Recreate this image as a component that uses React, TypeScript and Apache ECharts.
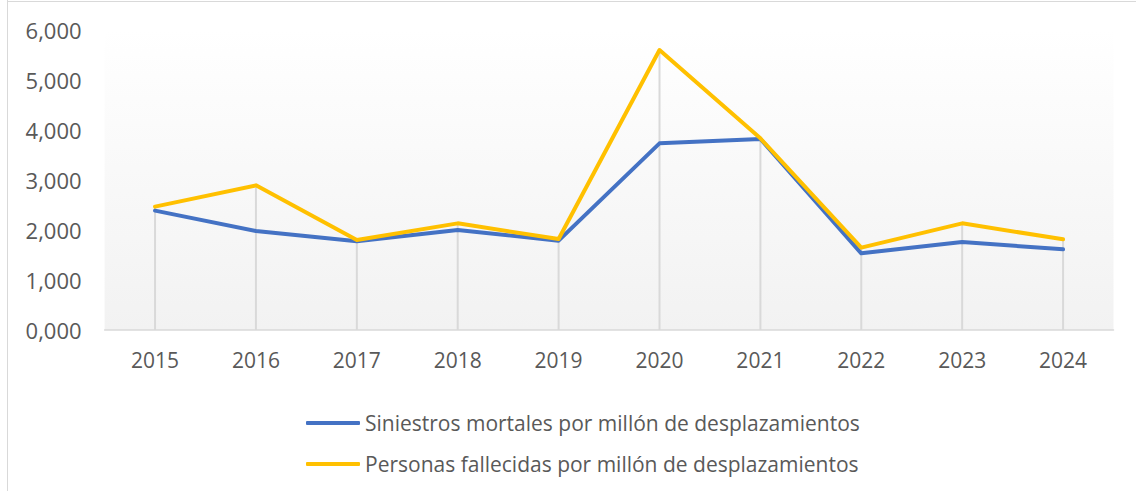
import React, { useEffect, useRef } from "react";
import * as echarts from "echarts";

const years = ["2015", "2016", "2017", "2018", "2019", "2020", "2021", "2022", "2023", "2024"];
const siniestros = [2387, 1980, 1773, 2000, 1787, 3733, 3820, 1533, 1760, 1613];
const fallecidos = [2467, 2893, 1800, 2133, 1820, 5600, 3833, 1647, 2133, 1813];
const yTicks = [0, 1000, 2000, 3000, 4000, 5000, 6000];
const seriesNames = [
  "Siniestros mortales por millón de desplazamientos",
  "Personas fallecidas por millón de desplazamientos",
];

const FONT = "Open Sans";
const TXT = "#595959";

export default function App() {
  const ref = useRef<HTMLDivElement>(null);
  useEffect(() => {
    document.body.style.margin = "0";
    if (!ref.current) return;
    const chart = echarts.init(ref.current, undefined, { renderer: "svg" });
    const dropData = years.map((_, i) => [i, Math.max(siniestros[i], fallecidos[i])]);
    chart.setOption({
      animation: false,
      backgroundColor: "#ffffff",
      textStyle: { fontFamily: FONT },
      graphic: [
        { type: "line", shape: { x1: 7.5, y1: 0, x2: 7.5, y2: 491 }, style: { stroke: "#d9d9d9", lineWidth: 1 } },
        { type: "line", shape: { x1: 7.5, y1: 1.5, x2: 1136, y2: 1.5 }, style: { stroke: "#d9d9d9", lineWidth: 1 } },
      ],
      grid: {
        left: 104.6,
        right: 22.5,
        top: 30,
        bottom: 161,
        show: true,
        borderWidth: 0,
        backgroundColor: new echarts.graphic.LinearGradient(0, 0, 0, 1, [
          { offset: 0, color: "#ffffff" },
          { offset: 1, color: "#f2f2f2" },
        ]),
      },
      legend: {
        orient: "vertical",
        left: 306,
        top: 412,
        padding: 0,
        itemWidth: 54,
        itemHeight: 4,
        itemGap: 19,
        icon: "roundRect",
        data: seriesNames,
        textStyle: { fontFamily: FONT, fontSize: 21, color: TXT, lineHeight: 22 },
      },
      xAxis: {
        type: "category",
        data: years,
        boundaryGap: true,
        axisLine: { show: true, lineStyle: { color: "#d9d9d9", width: 1.5 } },
        axisTick: { show: false },
        splitLine: { show: false },
        axisLabel: { color: TXT, fontSize: 21, fontFamily: FONT, margin: 19 },
      },
      yAxis: {
        type: "value",
        min: yTicks[0],
        max: yTicks[yTicks.length - 1],
        interval: 1000,
        axisLine: { show: false },
        axisTick: { show: false },
        splitLine: { show: false },
        axisLabel: {
          color: TXT,
          fontSize: 22,
          fontFamily: FONT,
          margin: 23,
          formatter: (v: number) => (v / 1000).toFixed(3).replace(".", ","),
        },
      },
      series: [
        {
          type: "custom",
          silent: true,
          z: 1,
          data: dropData,
          renderItem: (params: any, api: any) => {
            const top = api.coord([api.value(0), api.value(1)]);
            const bottom = api.coord([api.value(0), 0]);
            return {
              type: "line",
              shape: { x1: top[0], y1: top[1], x2: bottom[0], y2: bottom[1] },
              style: { stroke: "#d9d9d9", lineWidth: 2 },
            };
          },
        },
        {
          name: seriesNames[0],
          type: "line",
          data: siniestros,
          symbol: "none",
          z: 3,
          lineStyle: { color: "#4472C4", width: 4, cap: "round", join: "round" },
          itemStyle: { color: "#4472C4" },
        },
        {
          name: seriesNames[1],
          type: "line",
          data: fallecidos,
          symbol: "none",
          z: 4,
          lineStyle: { color: "#FFC000", width: 4, cap: "round", join: "round" },
          itemStyle: { color: "#FFC000" },
        },
      ],
    });
    return () => chart.dispose();
  }, []);
  return <div ref={ref} style={{ width: 1136, height: 491 }} />;
}
